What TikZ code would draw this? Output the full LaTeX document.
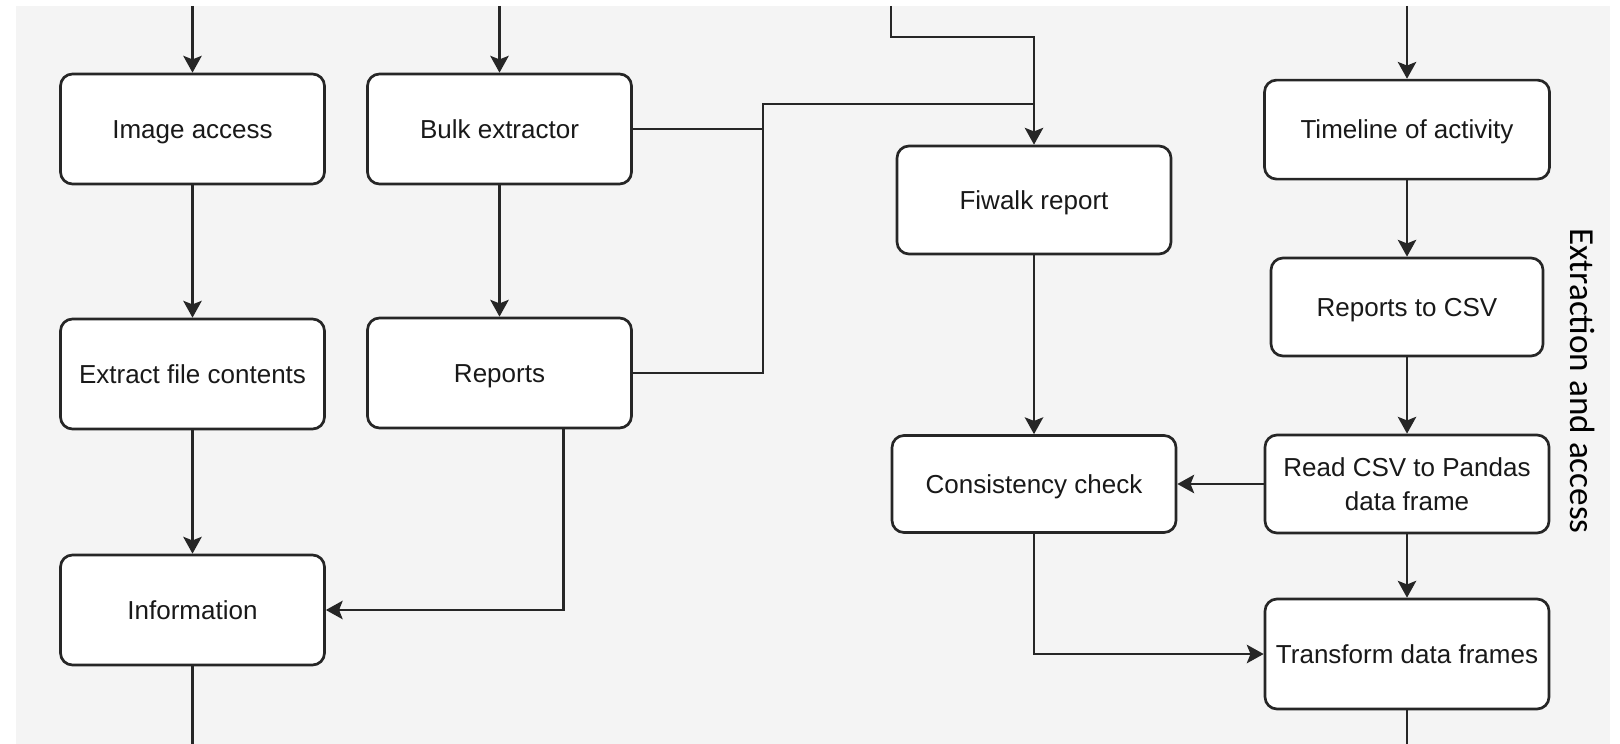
\documentclass[tikz,border=0pt]{standalone}
\usepackage{fontspec}
\setmainfont{Liberation Sans}
\newfontfamily\sidefont{Carlito}
\usetikzlibrary{arrows.meta, positioning}
\usepackage{xcolor}
\definecolor{panel}{HTML}{F4F4F4}
\definecolor{ink}{HTML}{262626}

\begin{document}
\begin{tikzpicture}[auto, line width=1.9pt, draw=ink, >={Stealth[length=0.42cm, width=0.46cm, inset=0.09cm]}]
		
		% Define block styles
		\tikzstyle{frame} = [rectangle, rounded corners=0.3cm, draw=ink, fill=white, minimum width=6.6cm, minimum height=2.75cm, text centered, align=center, text=black!90, font=\fontsize{18.5}{24}\selectfont]
		\tikzstyle{box} = [frame, text height=13.3pt, text depth=0pt]
		
		% Background
		\useasboundingbox (0,0) rectangle (40.5,-18.6);
		\fill[panel] (0.4,-0.15) rectangle (40.25,-18.6);
		\coordinate (top) at (0,-0.15);
		\coordinate (bottom) at (0,-18.6);
		
		% Nodes
		\node[box] (img) at (4.8125,-3.225) {Image access};
		\node[box, below of=img, node distance=6.125cm] (extract) {Extract file contents};
		\node[box, below of=extract, node distance=5.9cm] (info) {Information};
		\node[box, right of=img, node distance=7.675cm] (bulk) {Bulk extractor};
		\node[box, below of=bulk, node distance=6.1cm] (reports) {Reports};
		\node[box, minimum width=6.85cm, minimum height=2.7cm] (fiwalk) at (25.85,-5.0) {Fiwalk report};
		\node[box, minimum width=7.1cm, minimum height=2.425cm, below of=fiwalk, node distance=7.1cm] (consist) {Consistency check};
		\node[box, minimum width=7.125cm, minimum height=2.475cm] (timeline) at (35.175,-3.24) {Timeline of activity};
		\node[box, minimum width=6.8cm, minimum height=2.45cm, below of=timeline, node distance=4.435cm] (csv) {Reports to CSV};
		\node[frame, minimum width=7.1cm, minimum height=2.45cm, below of=csv, node distance=4.425cm] (pandas) {Read CSV to Pandas\\data frame};
		\node[box, minimum width=7.1cm, minimum height=2.75cm, below of=pandas, node distance=4.25cm] (transform) {Transform data frames};
		
		% Bends
		\coordinate (fwin) at (22.275,-0.15);
		\coordinate (fwbend) at (25.85,-0.925);
		\coordinate (jn) at (19.075,-2.6);
		\coordinate (rpout) at ([xshift=1.6cm]reports.south);
		
		% Arrows
		\draw[->] (img |- top) -- (img);
		\draw[->] (bulk |- top) -- (bulk);
		\draw[->] (timeline |- top) -- (timeline);
		\draw[->] (fwin) |- (fwbend) -- (fiwalk);
		\draw[->] (img) -- (extract);
		\draw[->] (extract) -- (info);
		\draw[->] (bulk) -- (reports);
		\draw (bulk) -- (bulk -| jn);
		\draw (reports) -| (jn) -- (jn -| fiwalk);
		\draw[->] (rpout) |- (info);
		\draw[->] (fiwalk) -- (consist);
		\draw[->] (pandas) -- (consist);
		\draw[->] (consist) |- (transform);
		\draw[->] (timeline) -- (csv);
		\draw[->] (csv) -- (pandas);
		\draw[->] (pandas) -- (transform);
		\draw (info) -- (info |- bottom);
		\draw (transform) -- (transform |- bottom);
		
		% Labels
		\node[rotate=-90, font=\sidefont\fontsize{25}{30}\selectfont] (side) at (39.575,-9.525) {Extraction and access};
		
	\end{tikzpicture}
\end{document}
